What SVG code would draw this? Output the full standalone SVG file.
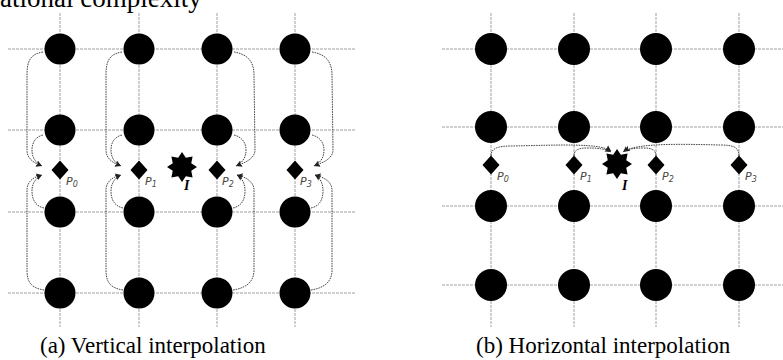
<svg xmlns="http://www.w3.org/2000/svg" width="783" height="360" viewBox="0 0 783 360">
<defs>
<style>
.grid{stroke:#a0a0a0;stroke-width:1;stroke-dasharray:3 1;fill:none}
.dot{fill:#000}
.con{fill:none;stroke:#333;stroke-width:0.9;stroke-dasharray:1.6 0.9;marker-end:url(#ah)}
.lbl{font-family:"DejaVu Sans",sans-serif;font-style:italic;font-size:11px;fill:#4a4640}
.sub{font-size:8px}
.ilbl{font-family:"Liberation Serif",serif;font-style:italic;font-weight:bold;font-size:14px;fill:#000}
.cap{font-family:"Liberation Serif",serif;font-size:23px;fill:#000}
</style>
<marker id="ah" markerWidth="7" markerHeight="7" refX="6" refY="3" orient="auto" markerUnits="userSpaceOnUse">
<path d="M0,0 L6,3 L0,6 L1.5,3 Z" fill="#222"/>
</marker>
<polygon id="star" points="0,-15 3.83,-9.24 10.61,-10.61 9.24,-3.83 15,0 9.24,3.83 10.61,10.61 3.83,9.24 0,15 -3.83,9.24 -10.61,10.61 -9.24,3.83 -15,0 -9.24,-3.83 -10.61,-10.61 -3.83,-9.24"/>
<polygon id="dm" points="0,-9.5 8.5,0 0,9.5 -8.5,0"/>
</defs>

<text x="0" y="7" font-family="Liberation Serif, serif" font-size="27">ational complexity</text>

<g id="grid-a">
<line class="grid" x1="8" y1="49" x2="356" y2="49"/>
<line class="grid" x1="8" y1="130" x2="356" y2="130"/>
<line class="grid" x1="8" y1="212" x2="356" y2="212"/>
<line class="grid" x1="8" y1="293" x2="356" y2="293"/>
<line class="grid" x1="60" y1="13" x2="60" y2="327"/>
<line class="grid" x1="139" y1="13" x2="139" y2="327"/>
<line class="grid" x1="217" y1="13" x2="217" y2="327"/>
<line class="grid" x1="295" y1="13" x2="295" y2="327"/>
</g>

<g id="grid-b">
<line class="grid" x1="442" y1="49" x2="783" y2="49"/>
<line class="grid" x1="442" y1="127" x2="783" y2="127"/>
<line class="grid" x1="442" y1="206" x2="783" y2="206"/>
<line class="grid" x1="442" y1="285" x2="783" y2="285"/>
<line class="grid" x1="491" y1="13" x2="491" y2="327"/>
<line class="grid" x1="574" y1="13" x2="574" y2="327"/>
<line class="grid" x1="656" y1="13" x2="656" y2="327"/>
<line class="grid" x1="739" y1="13" x2="739" y2="327"/>
</g>

<g id="pixels-a">
<circle class="dot" cx="60" cy="49" r="15.5"/><circle class="dot" cx="139" cy="49" r="15.5"/><circle class="dot" cx="217" cy="49" r="15.5"/><circle class="dot" cx="295" cy="49" r="15.5"/>
<circle class="dot" cx="60" cy="130" r="15.5"/><circle class="dot" cx="139" cy="130" r="15.5"/><circle class="dot" cx="217" cy="130" r="15.5"/><circle class="dot" cx="295" cy="130" r="15.5"/>
<circle class="dot" cx="60" cy="212" r="15.5"/><circle class="dot" cx="139" cy="212" r="15.5"/><circle class="dot" cx="217" cy="212" r="15.5"/><circle class="dot" cx="295" cy="212" r="15.5"/>
<circle class="dot" cx="60" cy="293" r="15.5"/><circle class="dot" cx="139" cy="293" r="15.5"/><circle class="dot" cx="217" cy="293" r="15.5"/><circle class="dot" cx="295" cy="293" r="15.5"/>
</g>

<g id="pixels-b">
<circle class="dot" cx="491" cy="49" r="16"/><circle class="dot" cx="574" cy="49" r="16"/><circle class="dot" cx="656" cy="49" r="16"/><circle class="dot" cx="739" cy="49" r="16"/>
<circle class="dot" cx="491" cy="127" r="16"/><circle class="dot" cx="574" cy="127" r="16"/><circle class="dot" cx="656" cy="127" r="16"/><circle class="dot" cx="739" cy="127" r="16"/>
<circle class="dot" cx="491" cy="206" r="16"/><circle class="dot" cx="574" cy="206" r="16"/><circle class="dot" cx="656" cy="206" r="16"/><circle class="dot" cx="739" cy="206" r="16"/>
<circle class="dot" cx="491" cy="285" r="16"/><circle class="dot" cx="574" cy="285" r="16"/><circle class="dot" cx="656" cy="285" r="16"/><circle class="dot" cx="739" cy="285" r="16"/>
</g>

<g id="a-P0"><use href="#dm" x="60" y="170"/><text class="lbl" x="66" y="185">P<tspan class="sub" dy="2">0</tspan></text></g>
<g id="a-P1"><use href="#dm" x="139" y="170"/><text class="lbl" x="145" y="185">P<tspan class="sub" dy="2">1</tspan></text></g>
<g id="a-I"><use href="#star" x="182" y="167"/><text class="ilbl" x="184" y="190">I</text></g>
<g id="a-P2"><use href="#dm" x="217" y="170"/><text class="lbl" x="222" y="185">P<tspan class="sub" dy="2">2</tspan></text></g>
<g id="a-P3"><use href="#dm" x="295" y="170"/><text class="lbl" x="300" y="185">P<tspan class="sub" dy="2">3</tspan></text></g>

<g id="b-P0"><use href="#dm" x="491" y="165"/><text class="lbl" x="497" y="180">P<tspan class="sub" dy="2">0</tspan></text></g>
<g id="b-P1"><use href="#dm" x="574" y="165"/><text class="lbl" x="580" y="180">P<tspan class="sub" dy="2">1</tspan></text></g>
<g id="b-I"><use href="#star" x="617" y="164"/><text class="ilbl" x="622" y="190">I</text></g>
<g id="b-P2"><use href="#dm" x="656" y="165"/><text class="lbl" x="662" y="180">P<tspan class="sub" dy="2">2</tspan></text></g>
<g id="b-P3"><use href="#dm" x="739" y="165"/><text class="lbl" x="745" y="180">P<tspan class="sub" dy="2">3</tspan></text></g>

<g id="connectors">
<path class="con" d="M43,52 C31,54 27,60 27,75 L27,150 C27,159 34,163 42,166"/>
<path class="con" d="M43,135 C35,137 32,143 32,150 C32,158 36,163 42,166"/>
<path class="con" d="M44,208 C35,206 32,199 32,191 C32,183 36,178 42,175"/>
<path class="con" d="M44,290 C31,288 27,282 27,270 L27,190 C27,182 33,177 42,175"/>
<path class="con" d="M122,52 C110,54 106,60 106,75 L106,150 C106,159 113,163 121,166"/>
<path class="con" d="M122,135 C114,137 111,143 111,150 C111,158 115,163 121,166"/>
<path class="con" d="M123,208 C114,206 111,199 111,191 C111,183 115,178 121,175"/>
<path class="con" d="M123,290 C110,288 106,282 106,270 L106,190 C106,182 112,177 121,175"/>
<path class="con" d="M234,52 C246,54 254,60 254,75 L255,150 C255,159 244,163 236,166"/>
<path class="con" d="M234,135 C242,137 246,143 246,150 C246,158 242,163 236,166"/>
<path class="con" d="M233,208 C242,206 245,199 245,191 C245,183 242,178 237,175"/>
<path class="con" d="M233,290 C246,288 254,282 254,270 L254,190 C254,182 246,177 237,175"/>
<path class="con" d="M312,52 C324,54 332,60 332,75 L333,150 C333,159 322,163 314,166"/>
<path class="con" d="M312,135 C320,137 324,143 324,150 C324,158 320,163 314,166"/>
<path class="con" d="M311,208 C320,206 323,199 323,191 C323,183 320,178 315,175"/>
<path class="con" d="M311,290 C324,288 332,282 332,270 L332,190 C332,182 324,177 315,175"/>
<path class="con" d="M491,156 C491,148 498,146 512,146 C560,145 600,143 611,151"/>
<path class="con" d="M574,156 C574,150 578,148 588,148 C598,148 606,149 611,152"/>
<path class="con" d="M656,156 C656,150 652,148 644,148 C634,148 627,149 623,152"/>
<path class="con" d="M739,156 C739,147 733,145 720,145 C680,144 640,143 624,151"/>
</g>

<text class="cap" x="40" y="353">(a) Vertical interpolation</text>
<text class="cap" x="476" y="353">(b) Horizontal interpolation</text>
</svg>
